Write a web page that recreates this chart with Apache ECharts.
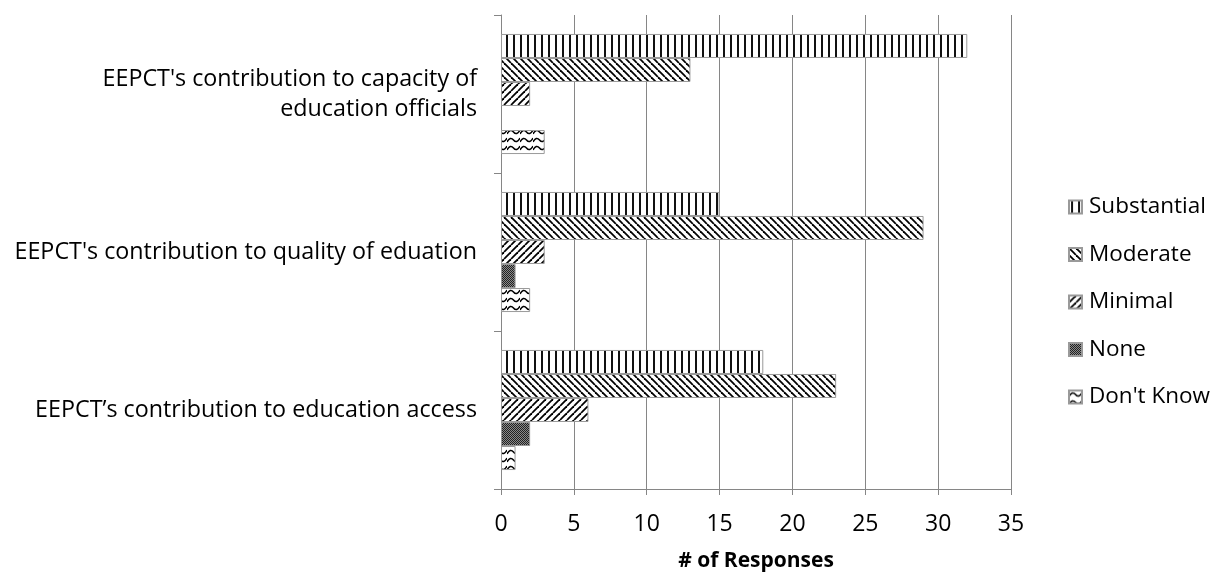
<!DOCTYPE html>
<html>
<head>
<meta charset="utf-8">
<script src="https://cdn.jsdelivr.net/npm/echarts@6/dist/echarts.min.js"></script>
<style>
  html, body { margin: 0; padding: 0; background: #fff; }
  #chart { width: 1217px; height: 577px; }
</style>
</head>
<body>
<div id="chart"></div>
<script>
  var categories = [
    "EEPCT's contribution to capacity of\neducation officials",
    "EEPCT's contribution to quality of eduation",
    "EEPCT\u2019s contribution to education access"
  ]
  var seriesNames = ['Substantial', 'Moderate', 'Minimal', 'None', "Don't Know"]
  var substantial = [32, 15, 18]
  var moderate = [13, 29, 23]
  var minimal = [2, 3, 6]
  var none = [0, 1, 2]
  var dontKnow = [3, 2, 1]
  var xTicks = [0, 5, 10, 15, 20, 25, 30, 35]

  // hatch patterns drawn on small canvases
  function makePattern(kind) {
    var c = document.createElement('canvas')
    var ctx = c.getContext('2d')
    ctx.strokeStyle = '#000'
    if (kind === 'vert') {
      c.width = 7; c.height = 7
      ctx.fillStyle = '#fff'; ctx.fillRect(0, 0, 7, 7)
      ctx.fillStyle = '#111'; ctx.fillRect(2, 0, 2, 7)
    } else if (kind === 'back' || kind === 'fwd') {
      c.width = 7; c.height = 7
      ctx.fillStyle = '#fff'; ctx.fillRect(0, 0, 7, 7)
      ctx.lineWidth = 1.8
      for (var i = -7; i <= 14; i += 7) {
        ctx.beginPath()
        if (kind === 'back') { ctx.moveTo(i, 0); ctx.lineTo(i + 7, 7) }
        else { ctx.moveTo(i + 7, 0); ctx.lineTo(i, 7) }
        ctx.stroke()
      }
    } else if (kind === 'dots') {
      c.width = 2; c.height = 2
      ctx.fillStyle = '#8a8a8a'; ctx.fillRect(0, 0, 2, 2)
      ctx.fillStyle = '#222'; ctx.fillRect(0, 0, 1, 1); ctx.fillRect(1, 1, 1, 1)
    } else {
      c.width = 13; c.height = 8
      ctx.fillStyle = '#fff'; ctx.fillRect(0, 0, 13, 8)
      ctx.lineWidth = 1.5
      ctx.beginPath()
      ctx.moveTo(0, 6); ctx.quadraticCurveTo(3.25, 0, 6.5, 4); ctx.quadraticCurveTo(9.75, 8, 13, 2)
      ctx.stroke()
    }
    return { image: c, repeat: 'repeat' }
  }

  var patterns = [makePattern('vert'), makePattern('back'), makePattern('fwd'), makePattern('dots'), makePattern('wave')]
  var allData = [substantial, moderate, minimal, none, dontKnow]

  var chart = echarts.init(document.getElementById('chart'))
  var font = 'Open Sans'

  var series = seriesNames.map(function (name, i) {
    return {
      name: name,
      type: 'bar',
      // zero-length bars are not drawn in the original
      data: allData[i].map(function (v) { return v === 0 ? '-' : v }),
      barGap: '0%',
      barCategoryGap: '24%',
      itemStyle: { color: patterns[i], borderColor: '#9a9a9a', borderWidth: 1 }
    }
  })

  chart.setOption({
    animation: false,
    grid: { left: 501, right: 206, top: 15, bottom: 87 },
    legend: {
      orient: 'vertical',
      left: 1063,
      top: 190,
      itemWidth: 13,
      itemHeight: 13,
      itemGap: 23.5,
      icon: 'rect',
      textStyle: { fontFamily: font, fontSize: 22.5, lineHeight: 24, color: '#000', padding: [0, 0, 0, 2] },
      data: seriesNames
    },
    xAxis: {
      type: 'value',
      min: 0,
      max: 35,
      interval: 5,
      name: '# of Responses',
      nameLocation: 'middle',
      nameGap: 62,
      nameTextStyle: { fontFamily: font, fontSize: 21, fontWeight: 'bold', color: '#000' },
      axisLine: { show: true, lineStyle: { color: '#868686' } },
      axisTick: { show: true, length: 6, lineStyle: { color: '#868686' } },
      axisLabel: {
        fontFamily: font, fontSize: 23, color: '#000', margin: 24,
        formatter: function (v) { return xTicks.indexOf(v) >= 0 ? String(v) : '' }
      },
      splitLine: { show: true, lineStyle: { color: '#868686', width: 1 } }
    },
    yAxis: {
      type: 'category',
      inverse: true,
      data: categories,
      axisLine: { show: true, lineStyle: { color: '#868686' } },
      axisTick: { show: true, length: 7, lineStyle: { color: '#868686' } },
      axisLabel: {
        fontFamily: font, fontSize: 23.3, color: '#000', margin: 24,
        lineHeight: 30, align: 'right', padding: [4, 0, 0, 0]
      }
    },
    series: series
  })
</script>
</body>
</html>
